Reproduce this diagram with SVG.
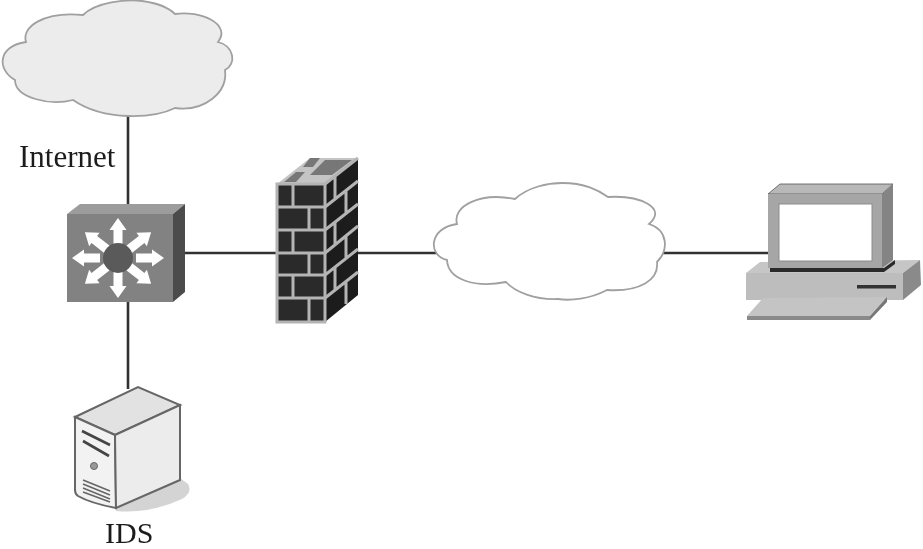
<svg xmlns="http://www.w3.org/2000/svg" width="923" height="549" viewBox="0 0 923 549">
<style>
.ln{stroke:#333;stroke-width:2.6;fill:none}
.cl{stroke:#a0a0a0;stroke-width:1.8}
.tx{font-family:"Liberation Serif","Times New Roman",serif;fill:#1c1c1c}
.mo{stroke:#b4b4b4;stroke-width:3;fill:none}
.ar{fill:#fff}
</style>
<defs>
<filter id="b" x="-5%" y="-5%" width="110%" height="110%"><feGaussianBlur stdDeviation="0.7"/></filter>
<polygon id="a" class="ar" points="-4.5,0 -4.5,-16 -8.5,-16 0,-28 8.5,-16 4.5,-16 4.5,0"/>
</defs>
<rect width="923" height="549" fill="#fff"/>
<g filter="url(#b)">
<g id="connectors">
<path class="ln" d="M128 116V205M128 302V389M185 253H278M357 253H437M656 253H769"/>
</g>
<g id="internet-cloud">
<path class="cl" fill="#ececec" d="M26 42C21 27 44 11 83 15C96 2 126 -1 142 1C157 3 168 7 175 14C200 10 232 24 218 42C234 46 237 64 225 70C228 92 205 112 175 108C155 118 105 122 73 100C50 106 15 98 15 80C-3 70 -3 46 26 42Z"/>
</g>
<g id="lan-cloud">
<path class="cl" fill="#fff" d="M457 224C452 206 480 192 515 199C528 187 548 183 562 183C585 183 598 190 608 197C640 195 668 208 649 224C668 230 669 250 657 262C659 280 640 292 607 290C590 299 570 301 558 299C535 300 515 292 506 282C475 288 448 280 447 260C428 256 428 228 457 224Z"/>
</g>
<g id="switch">
<polygon points="67,214 80,204 185,204 173,214" fill="#9c9c9c"/>
<polygon points="173,214 185,204 185,292 173,302" fill="#4b4b4b"/>
<rect x="67" y="214" width="106" height="88" fill="#828282"/>
<g transform="translate(118 258)">
<use href="#a" transform="translate(0 -12)"/>
<use href="#a" transform="rotate(52) translate(0 -14)"/>
<use href="#a" transform="rotate(90) translate(0 -18)"/>
<use href="#a" transform="rotate(128) translate(0 -14)"/>
<use href="#a" transform="rotate(180) translate(0 -12)"/>
<use href="#a" transform="rotate(232) translate(0 -14)"/>
<use href="#a" transform="rotate(270) translate(0 -18)"/>
<use href="#a" transform="rotate(308) translate(0 -14)"/>
</g>
<circle cx="118" cy="258" r="15" fill="#5a5a5a"/>
</g>
<g id="firewall">
<polygon points="277,184 310,158 358,158 325,184" fill="#c4c4c4"/>
<polygon points="284,182 296,172 305,172 296,182" fill="#777"/>
<polygon points="310,175 325,160 352,160 332,175" fill="#777"/>
<polygon points="303,167 310,158 320,158 313,167" fill="#777"/>
<rect x="277" y="184" width="48" height="138" fill="#2b2b2b"/>
<polygon points="325,184 358,158 358,295 325,322" fill="#1f1f1f"/>
<path class="mo" d="M277 184H325V322H277ZM277 207H325M277 230H325M277 253H325M277 275H325M277 298H325M293 184V207M309 207V230M293 230V253M309 253V275M293 275V298M309 298V322"/>
<path class="mo" stroke-width="2.6" d="M325 184L358 158M325 207L358 181M325 230L358 204M325 253L358 226M325 275L358 249M325 298L358 272M335 176V199M346 190V214M335 222V245M346 236V259M335 267V290M346 281V304"/>
</g>
<g id="workstation">
<polygon points="746,273 760,262 920,260 903,273" fill="#c6c6c6"/>
<polygon points="903,273 920,260 921,285 903,300" fill="#8a8a8a"/>
<rect x="746" y="273" width="157" height="27" fill="#bdbdbd"/>
<rect x="857" y="285" width="39" height="3.5" fill="#333"/>
<polygon points="770,268 884,268 895,260 895,264 884,272 770,272" fill="#2a2a2a"/>
<polygon points="780,184 893,184 882,194 768,194" fill="#b8b8b8" stroke="#555" stroke-width="0.8"/>
<polygon points="882,194 893,184 893,260 882,268" fill="#848484"/>
<rect x="768" y="194" width="114" height="74" fill="#a6a6a6"/>
<rect x="779" y="204" width="93" height="57" fill="#fff" stroke="#8c8c8c"/>
<polygon points="747,316 763,298 887,297 870,316" fill="#c4c4c4"/>
<polygon points="747,316 870,316 870,320 747,320" fill="#8a8a8a"/>
<polygon points="870,316 887,297 887,302 870,320" fill="#777"/>
</g>
<g id="ids-server">
<path d="M116 508L180 478L188 484Q193 492 182 499Q150 514 116 511Z" fill="#d4d4d4"/>
<polygon points="75,417 138,387 180,405 115,435" fill="#e2e2e2" stroke="#666" stroke-width="2"/>
<path d="M75 417L115 435L116 508C100 505 85 500 78 496Q75 494 75 490Z" fill="#f2f2f2" stroke="#666" stroke-width="2"/>
<polygon points="115,435 180,405 180,480 116,508" fill="#ececec" stroke="#666" stroke-width="2"/>
<path d="M82 431L110 445M83 441L109 456" stroke="#444" stroke-width="2.6" fill="none"/>
<circle cx="94" cy="466" r="3.5" fill="#999" stroke="#666"/>
<path d="M83 480L110 491M83 484L110 495M83 488L110 499M83 492L110 502" stroke="#666" stroke-width="1.6" fill="none"/>
</g>
<text class="tx" x="19" y="167" font-size="31">Internet</text>
<text class="tx" x="105" y="542.5" font-size="30">IDS</text>
</g>
</svg>
